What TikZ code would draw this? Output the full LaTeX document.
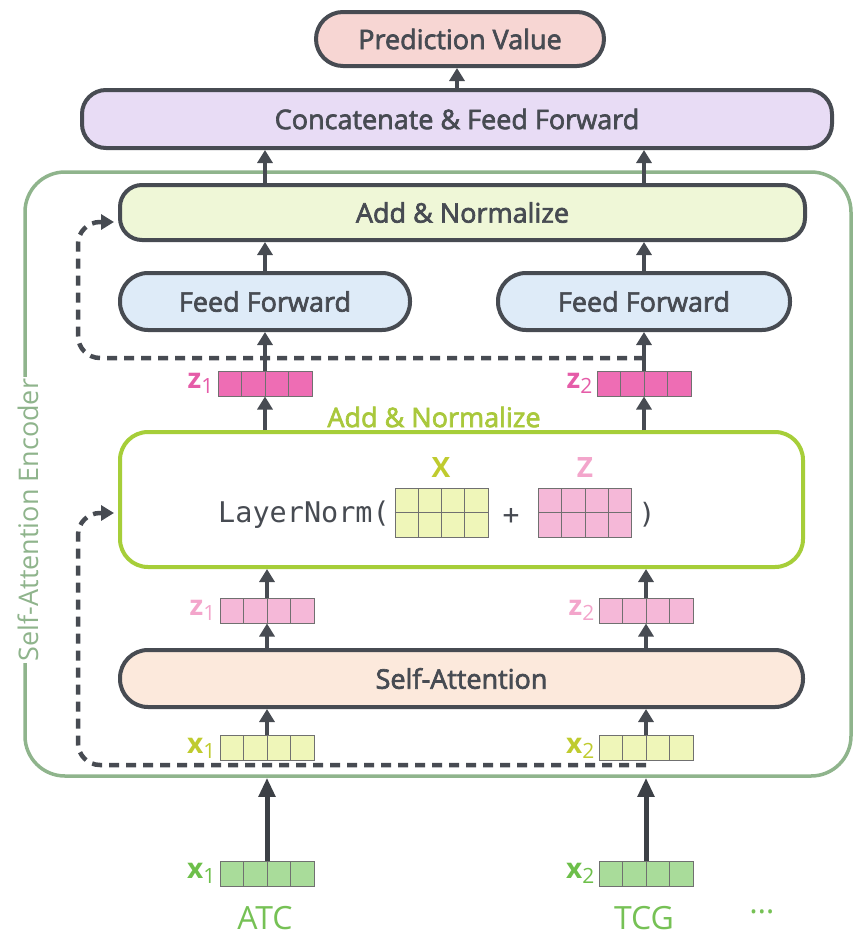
\documentclass[tikz,border=0pt]{standalone}
\usepackage{fontspec}
\setmainfont{Open Sans}
\setmonofont{DejaVu Sans Mono}
\newfontfamily\boxfont{Open Sans}[FakeBold=2.5]
\usetikzlibrary{arrows.meta, calc}
\definecolor{cInk}{HTML}{474B52}
\definecolor{cPred}{HTML}{F7D6D3}
\definecolor{cConcat}{HTML}{E8DCF5}
\definecolor{cAddN}{HTML}{EFF7D7}
\definecolor{cFF}{HTML}{DEEBF8}
\definecolor{cSA}{HTML}{FCE9DC}
\definecolor{cLN}{HTML}{A6CE39}
\definecolor{cLNT}{HTML}{A9C83C}
\definecolor{cZdark}{HTML}{EE6DB4}
\definecolor{cZdarkT}{HTML}{E55CA8}
\definecolor{cZlight}{HTML}{F5B8D8}
\definecolor{cZlightT}{HTML}{F3A5CB}
\definecolor{cXlight}{HTML}{EFF6B9}
\definecolor{cXlightT}{HTML}{BFCB2E}
\definecolor{cXin}{HTML}{A9DC9A}
\definecolor{cXinT}{HTML}{6DBF4A}
\definecolor{cFrame}{HTML}{8FB48C}
\definecolor{cCell}{HTML}{707070}
\definecolor{cWord}{HTML}{76C155}
\newcommand{\vlab}[3]{\textcolor{#3}{\textbf{#1}\raisebox{-5pt}{\fontsize{21}{21}\selectfont #2}}}

\begin{document}
\begin{tikzpicture}[
  x=1pt, y=-1pt,
  font=\boxfont\fontsize{27}{32}\selectfont,
  block/.style={draw=cInk, line width=4pt, text=cInk, inner sep=0pt},
  lnbox/.style={draw=cLN, line width=4pt, fill=white, rounded corners=28pt,
                minimum width=683pt, minimum height=135pt},
  encframe/.style={draw=cFrame, line width=3.5pt, rounded corners=40pt},
  vec/.style={draw=cCell, line width=1pt, fill=#1, inner sep=0pt,
    minimum width=94pt, minimum height=25pt,
    path picture={
      \foreach \k in {1,2,3}{
        \draw[cCell, line width=1pt]
          ($(path picture bounding box.south west)!\k/4!(path picture bounding box.south east)$) --
          ($(path picture bounding box.north west)!\k/4!(path picture bounding box.north east)$);
      }}},
  mat/.style={vec=#1, minimum width=93pt, minimum height=49pt},
  lab/.style={anchor=east, inner sep=0pt, font=\rmfamily\fontsize{28}{30}\selectfont},
  arr/.style={-{Triangle[length=13pt, width=15pt]}, line width=3.5pt, draw=cInk},
  arrbig/.style={-{Triangle[length=19pt, width=16pt]}, line width=5pt, draw=cInk!85!black},
  res/.style={-{Triangle[length=13pt, width=15pt]}, line width=4.5pt, draw=cInk,
              dash pattern=on 10pt off 7pt, rounded corners=22pt},
]
  \useasboundingbox (0,0) rectangle (854,937);

  % --- encoder frame ---
  \node[encframe, minimum width=826pt, minimum height=604pt] (enc) at (438,474) {};
  \node[rotate=90, fill=white, text=cFrame, inner sep=2pt, font=\rmfamily\fontsize{27}{32}\selectfont]
    (enclab) at (28,520) {Self-Attention Encoder};

  % --- blocks ---
  \node[block, fill=cPred, minimum width=288pt, minimum height=54pt, rounded corners=27pt]
    (pred) at (460,39) {Prediction Value};
  \node[block, fill=cConcat, minimum width=750pt, minimum height=58pt, rounded corners=24pt]
    (concat) at (457,119) {Concatenate \& Feed Forward};
  \node[block, fill=cAddN, minimum width=685pt, minimum height=55pt, rounded corners=22pt]
    (addn) at (462.5,212.5) {Add \& Normalize};
  \node[block, fill=cFF, minimum width=290pt, minimum height=57pt, rounded corners=28pt]
    (ff1) at (265,301.5) {Feed Forward};
  \node[block, fill=cFF, minimum width=292pt, minimum height=57pt, rounded corners=28pt]
    (ff2) at (644,301.5) {Feed Forward};
  \node[lnbox] (ln) at (461.5,499.5) {};
  \node[block, fill=cSA, minimum width=683pt, minimum height=57pt, rounded corners=28pt]
    (sa) at (461.5,678.5) {Self-Attention};
  \node[text=cLNT, inner sep=0pt] (lntitle) at (434,417) {Add \& Normalize};

  % --- inside LayerNorm ---
  \node[anchor=east, inner sep=0pt, text=cInk, font=\ttfamily\fontsize{28.5}{32}\selectfont]
    (lnfun) at (390,515) {LayerNorm(};
  \node[mat=cXlight] (mx) at (441.5,512.5) {};
  \node[text=cXlightT, inner sep=0pt, font=\rmfamily\bfseries\fontsize{28}{30}\selectfont] (mxl) at (441,467) {X};
  \node[text=cInk, inner sep=0pt, font=\ttfamily\fontsize{28}{32}\selectfont] (plus) at (511,516) {+};
  \node[mat=cZlight] (mz) at (585,512.5) {};
  \node[text=cZlightT, inner sep=0pt, font=\rmfamily\bfseries\fontsize{28}{30}\selectfont] (mzl) at (585,467) {Z};
  \node[text=cInk, inner sep=0pt, font=\ttfamily\fontsize{28}{32}\selectfont] (rpar) at (647,515) {)};
  \foreach \m in {mx, mz}{
    \draw[cCell, line width=1pt] (\m.west) -- (\m.east);
  }

  % --- the two token columns ---
  \foreach \i/\cx/\w in {1/265/ATC, 2/644/TCG}{
    \node[vec=cZdark] (zd\i) at (\cx,383.5) {};
    \node[lab] (zdl\i) at ([xshift=-4pt]zd\i.west) {\vlab{z}{\i}{cZdarkT}};
    \node[vec=cZlight] (zl\i) at (\cx+2,610.5) {};
    \node[lab] (zll\i) at ([xshift=-4pt]zl\i.west) {\vlab{z}{\i}{cZlightT}};
    \node[vec=cXlight] (xl\i) at (\cx+2,748) {};
    \node[lab] (xll\i) at ([xshift=-4pt]xl\i.west) {\vlab{x}{\i}{cXlightT}};
    \node[vec=cXin] (xi\i) at (\cx+2,873.5) {};
    \node[lab] (xil\i) at ([xshift=-4pt]xi\i.west) {\vlab{x}{\i}{cXinT}};
    \node[text=cWord, font=\rmfamily\fontsize{32}{36}\selectfont] (w\i) at (\cx,918) {\w};

    \draw[arrbig] (xi\i.north) -- (xi\i.north |- enc.south);
    \draw[arr] (xl\i.north) -- (xl\i.north |- sa.south);
    \draw[arr] (sa.north -| zl\i) -- (zl\i.south);
    \draw[arr] (zl\i.north) -- (zl\i.north |- ln.south);
    \draw[arr] (ln.north -| zd\i) -- (zd\i.south);
    \draw[arr] (zd\i.north) -- (zd\i.north |- ff\i.south);
    \draw[arr] (ff\i.north) -- (ff\i.north |- addn.south);
    \draw[arr] (addn.north -| ff\i) -- (ff\i.north |- concat.south);
  }
  \node[text=cWord, font=\rmfamily\fontsize{32}{36}\selectfont] (dots) at (762,912) {\dots};
  \draw[arr] (concat.north) -- (concat.north |- pred.south);

  % --- residual connections ---
  \coordinate (r2top) at (ff2.south |- 0,358);
  \coordinate (r2bot) at (xl2.south |- 0,765);
  \draw[res] (r2top) -- (78,358) -- (78,222) -- ([xshift=-4pt, yshift=-9.5pt]addn.west);
  \draw[res] (r2bot) -- (78,765) -- (78,513) -- ([xshift=-4pt, yshift=-13.5pt]ln.west);
\end{tikzpicture}
\end{document}
